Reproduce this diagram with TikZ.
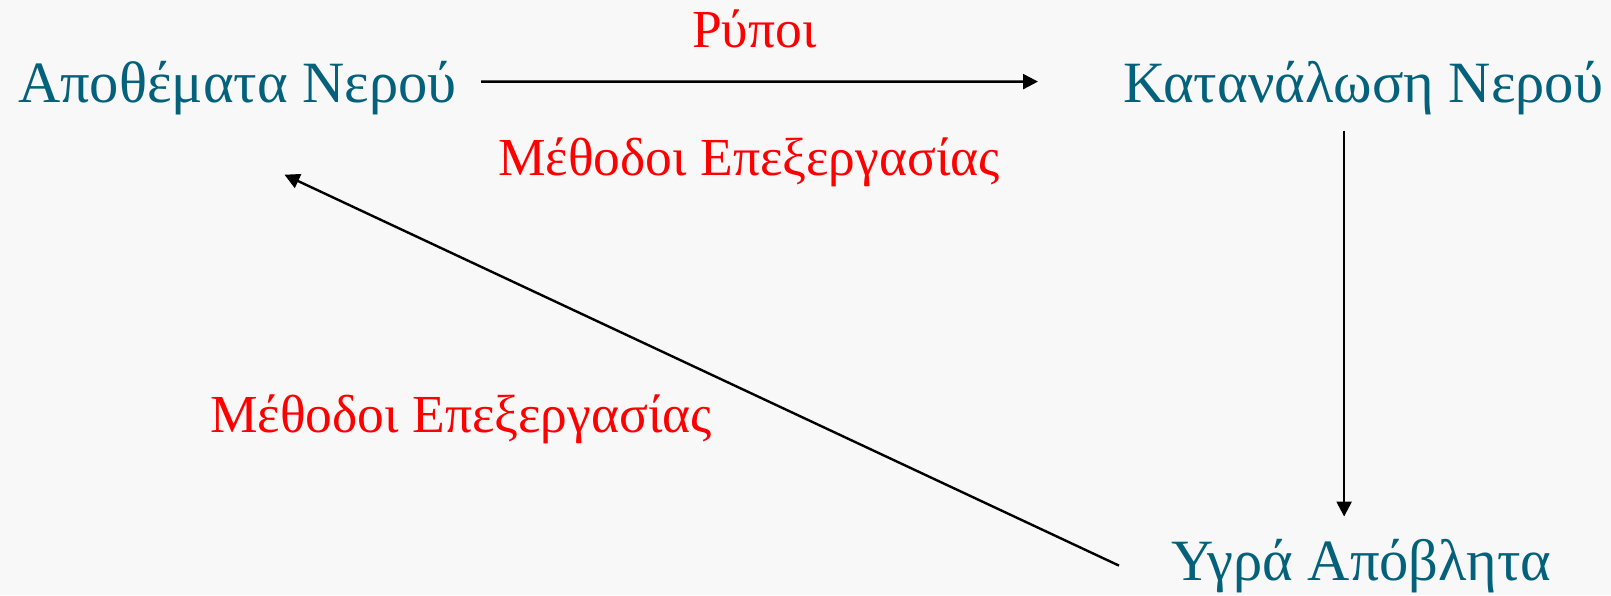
\documentclass[tikz,border=0pt]{standalone}
\usepackage{fontspec}
\setmainfont{Liberation Serif}
\usetikzlibrary{arrows.meta}
\definecolor{waterteal}{HTML}{04617B}
\definecolor{paper}{HTML}{F8F8F8}
\begin{document}
\begin{tikzpicture}[x=1pt, y=-1pt,
    stage/.style={anchor=base west, inner sep=0pt, text=waterteal, font=\fontsize{58.5}{70}\selectfont},
    method/.style={anchor=base west, inner sep=0pt, text=red, font=\fontsize{53.5}{64}\selectfont},
    flow/.style={-{Triangle[length=15pt, width=15pt]}, line width=2.4pt}]
    % background
    \fill[paper] (0,0) rectangle (1611,595);
    % stages of the water cycle
    \node[stage] (stock) at (18,102) {Αποθέματα Νερού};
    \node[stage] (use) at (1123,102) {Κατανάλωση Νερού};
    \node[stage] (waste) at (1171,580) {Υγρά Απόβλητα};
    % red labels
    \node[method] (pollut) at (692,47) {Ρύποι};
    \node[method] (treatA) at (498,175) {Μέθοδοι Επεξεργασίας};
    \node[method] (treatB) at (210,432) {Μέθοδοι Επεξεργασίας};
    % arrows
    \draw[flow] ([shift={(24,-6)}]stock.east) -- ([shift={(-85,-6)}]use.west);
    \draw[flow, shorten >=22pt] ([shift={(-19,16)}]use.south) -- ([xshift=-19pt]use.south |- waste.north);
    \draw[flow] ([shift={(-52,0)}]waste.west) -- ([shift={(47,60)}]stock.south);
\end{tikzpicture}
\end{document}
